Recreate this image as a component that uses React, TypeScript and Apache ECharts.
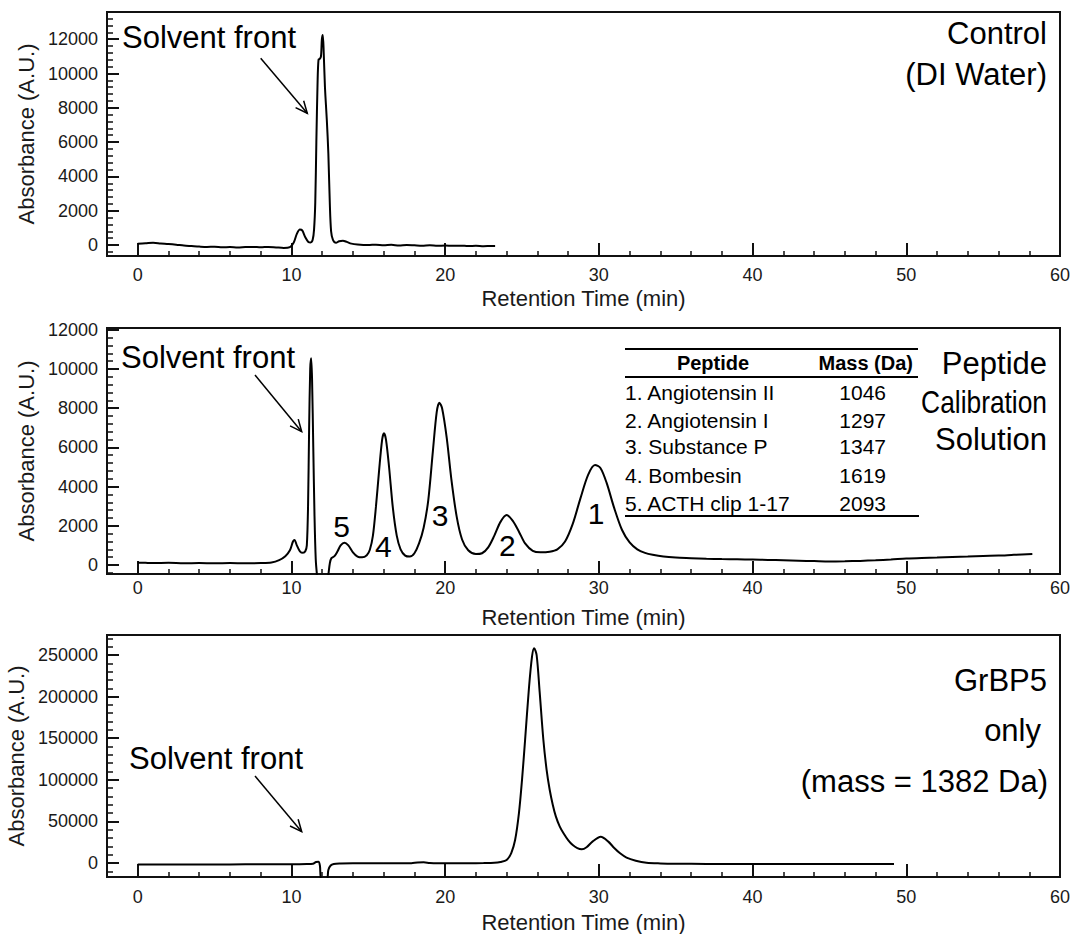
import React, { useEffect, useRef } from "react";
import * as echarts from "echarts";

// ---------- data (retention time [min], absorbance [A.U.]) ----------
const controlTrace: [number, number][] = [
  [0, 80], [0.5, 100], [1, 130], [1.5, 90], [2, 60], [2.5, 20], [3, -30], [3.5, -60], [4, -90],
  [4.5, -110], [5, -100], [5.5, -130], [6, -120], [6.5, -140], [7, -120], [7.5, -110], [8, -130],
  [8.5, -110], [9, -140], [9.5, -170], [9.9, -120], [10.15, 150], [10.35, 650], [10.55, 900],
  [10.7, 850], [10.9, 450], [11.1, 180], [11.25, 150], [11.38, 300], [11.47, 900], [11.55, 2500],
  [11.62, 6000], [11.7, 9500], [11.76, 10800], [11.84, 10850], [11.92, 11000], [11.98, 12000],
  [12.04, 12250], [12.1, 11200], [12.18, 9200], [12.3, 7300], [12.4, 5350], [12.5, 2300],
  [12.58, 800], [12.7, 300], [12.9, 130], [13.1, 220], [13.35, 250], [13.6, 180], [13.9, 80],
  [14.3, 30], [15, 0], [15.5, 20], [16, -20], [16.5, 10], [17, -30], [17.5, 0], [18, -20],
  [18.5, -40], [19, -20], [19.5, -50], [20, -30], [20.5, -50], [21, -40], [21.5, -60], [22, -50],
  [22.5, -70], [23, -60], [23.25, -60],
];

const calibrationTrace: [number, number][] = [
  [0, 120], [0.5, 110], [1, 100], [2, 110], [3, 90], [4, 100], [5, 90], [6, 100], [7, 90], [8, 100],
  [8.7, 130], [9.2, 250], [9.6, 450], [9.9, 750], [10.1, 1200], [10.2, 1280], [10.35, 1000],
  [10.55, 700], [10.75, 620], [10.9, 700], [11.0, 1000], [11.08, 3000], [11.15, 7000],
  [11.22, 10000], [11.28, 10550], [11.34, 9500], [11.42, 6000], [11.5, 2500], [11.58, 300],
  [11.66, -500], [11.8, -1500], [12.2, -1500], [12.4, -500], [12.5, 100], [12.6, 350], [12.8, 450],
  [13.0, 700], [13.2, 1000], [13.45, 1140], [13.7, 1000], [14.0, 650], [14.3, 430], [14.6, 390],
  [14.9, 500], [15.1, 780], [15.3, 1500], [15.5, 3000], [15.7, 4800], [15.9, 6400], [16.02, 6720],
  [16.15, 6400], [16.35, 5000], [16.6, 2900], [16.85, 1500], [17.1, 800], [17.4, 480], [17.7, 430],
  [18.0, 600], [18.3, 1100], [18.6, 1900], [18.9, 3300], [19.2, 5800], [19.45, 7800], [19.62, 8280],
  [19.8, 8000], [20.1, 6500], [20.4, 4400], [20.75, 2465], [21.1, 1300], [21.5, 750], [22.0, 560],
  [22.4, 600], [22.8, 900], [23.2, 1500], [23.6, 2200], [24.0, 2550], [24.4, 2250], [24.8, 1700],
  [25.2, 1100], [25.7, 720], [26.2, 650], [26.8, 680], [27.3, 800], [27.8, 1200], [28.3, 2100],
  [28.8, 3400], [29.3, 4600], [29.75, 5100], [30.1, 4950], [30.5, 4200], [31.0, 2900], [31.5, 1800],
  [32.0, 1150], [32.5, 800], [33.0, 620], [33.5, 520], [34.2, 430], [35, 380], [36, 350], [37, 320],
  [38, 300], [39, 290], [40, 280], [41, 260], [42, 240], [43, 220], [44, 200], [45, 180], [46, 190],
  [47, 210], [48, 240], [49, 280], [50, 330], [51, 360], [52, 380], [53, 410], [54, 430], [55, 460],
  [56, 480], [57, 520], [58.2, 560],
];

const grbp5Trace: [number, number][] = [
  [0, -1800], [2, -1700], [4, -1800], [6, -1700], [8, -1600], [10, -1500], [11.0, -1200],
  [11.4, -800], [11.6, 1200], [11.75, 1400], [11.85, -3000], [11.95, -20000], [12.3, -20000],
  [12.4, -8400], [12.55, -3000], [12.75, -1200], [13.2, -600], [14, -300], [15, -300], [16, -400],
  [17, -400], [17.8, -300], [18.2, 600], [18.6, 800], [19.0, 0], [19.5, -300], [20.5, -300],
  [21.5, -200], [22.5, -100], [23.2, 200], [23.6, 1200], [24.0, 3600], [24.3, 12000],
  [24.55, 27600], [24.8, 60000], [25.0, 100000], [25.2, 147800], [25.45, 210000], [25.65, 248000],
  [25.79, 258000], [25.95, 250000], [26.15, 205000], [26.39, 147800], [26.6, 112000],
  [26.8, 88000], [27.0, 70000], [27.2, 56000], [27.45, 44000], [27.7, 35700], [28.0, 27500],
  [28.3, 21500], [28.6, 17800], [28.89, 16500], [29.2, 19000], [29.6, 26000], [30.12, 31600],
  [30.6, 26000], [31.0, 18000], [31.38, 11650], [31.8, 6500], [32.4, 2800], [33.1, 360], [34, -500],
  [35, -900], [37, -1100], [40, -1200], [43, -1300], [46, -1300], [49.2, -1300],
];

const peptideNames = ["1. Angiotensin II", "2. Angiotensin I", "3. Substance P", "4. Bombesin", "5. ACTH clip 1-17"];
const peptideMasses = ["1046", "1297", "1347", "1619", "2093"];
const peakNumbers = ["5", "4", "3", "2", "1"];

// tick values
const xMajor = [0, 10, 20, 30, 40, 50, 60];
const xMinor: number[] = [];
for (let t = 2; t < 60; t += 2) if (t % 10 !== 0) xMinor.push(t);
const yMajorSmall = [0, 2000, 4000, 6000, 8000, 10000, 12000];
const yMinorSmall: number[] = [];
for (let v = -400; v <= 13600; v += 400) if (v % 2000 !== 0) yMinorSmall.push(v);
const yMajorBig = [0, 50000, 100000, 150000, 200000, 250000];
const yMinorBig: number[] = [];
for (let v = -10000; v <= 270000; v += 10000) if (v % 50000 !== 0) yMinorBig.push(v);

const FONT = '"Liberation Sans", Arial, Helvetica, sans-serif';
const INK = "#111";

function xAxes(g: number, labelMargin: number, nameGap: number) {
  return [
    {
      type: "value", gridIndex: g, min: -2, max: 60, position: "bottom",
      axisLine: { show: true, onZero: false, lineStyle: { color: INK, width: 2 } },
      axisTick: { show: true, inside: true, length: 13, customValues: xMajor, lineStyle: { color: INK, width: 2 } },
      axisLabel: { customValues: xMajor, margin: labelMargin, fontSize: 18, color: "#1a1a1a", fontFamily: FONT, formatter: (v: number) => String(v) },
      splitLine: { show: false },
      name: "Retention Time (min)", nameLocation: "middle", nameGap,
      nameTextStyle: { fontSize: 22, color: "#1a1a1a", fontFamily: FONT },
    },
    {
      type: "value", gridIndex: g, min: -2, max: 60, position: "bottom",
      axisLine: { show: false, onZero: false },
      axisTick: { show: true, inside: true, length: 5, customValues: xMinor, lineStyle: { color: INK, width: 1.5 } },
      axisLabel: { show: false }, splitLine: { show: false },
    },
  ];
}

function yAxes(g: number, min: number, max: number, major: number[], minor: number[], nameGap: number) {
  return [
    {
      type: "value", gridIndex: g, min, max, position: "left",
      axisLine: { show: true, onZero: false, lineStyle: { color: INK, width: 2 } },
      axisTick: { show: true, inside: true, length: 12, customValues: major, lineStyle: { color: INK, width: 2 } },
      axisLabel: { customValues: major, margin: 9, fontSize: 18, color: "#1a1a1a", fontFamily: FONT, formatter: (v: number) => String(v) },
      splitLine: { show: false },
      name: "Absorbance (A.U.)", nameLocation: "middle", nameRotate: 90, nameGap,
      nameTextStyle: { fontSize: 22, color: "#1a1a1a", fontFamily: FONT },
    },
    {
      type: "value", gridIndex: g, min, max, position: "left",
      axisLine: { show: false, onZero: false },
      axisTick: { show: true, inside: true, length: 6, customValues: minor, lineStyle: { color: INK, width: 1.5 } },
      axisLabel: { show: false }, splitLine: { show: false },
    },
  ];
}

function txt(text: string, x: number, y: number, size: number, align = "left", extra: any = {}, weight = "normal") {
  return {
    type: "text", x, y, z: 100, silent: true, ...extra,
    style: { text, fill: "#000", fontSize: size, fontFamily: FONT, fontWeight: weight, align, verticalAlign: "middle" },
  };
}

function arrow(x1: number, y1: number, x2: number, y2: number) {
  const ang = Math.atan2(y2 - y1, x2 - x1);
  const L = 13, a = 0.42;
  const p1 = [x2 - L * Math.cos(ang - a), y2 - L * Math.sin(ang - a)];
  const p2 = [x2 - L * Math.cos(ang + a), y2 - L * Math.sin(ang + a)];
  return [
    { type: "line", z: 100, silent: true, shape: { x1, y1, x2, y2 }, style: { stroke: "#000", lineWidth: 1.5 } },
    { type: "polyline", z: 100, silent: true, shape: { points: [p1, [x2, y2], p2] }, style: { stroke: "#000", lineWidth: 1.5, fill: null } },
  ];
}

function hline(x1: number, x2: number, y: number) {
  return { type: "line", z: 100, silent: true, shape: { x1, y1: y, x2, y2: y }, style: { stroke: "#000", lineWidth: 2 } };
}

export default function App() {
  const ref = useRef<HTMLDivElement>(null);
  useEffect(() => {
    if (!ref.current) return;
    const chart = echarts.init(ref.current, undefined, { renderer: "svg" });
    const gridBase = {
      left: 107, right: 13, show: true, borderColor: INK, borderWidth: 2,
      containLabel: false, outerBoundsMode: "none",
    };
    const lineSeries = (g: number, data: [number, number][]) => ({
      type: "line", xAxisIndex: 2 * g, yAxisIndex: 2 * g, data, showSymbol: false, symbol: "none",
      smooth: 0.3, clip: true, lineStyle: { color: "#000", width: 2 }, silent: true,
    });

    const rowY = [392.7, 420, 446.7, 475, 503.3];
    const peakPos = [[341.7, 526.7], [383.3, 546.7], [440, 515], [507.3, 545], [596, 513.3]];

    const graphic: any[] = [
      // panel 1
      txt("Solvent front", 122, 37, 31),
      ...arrow(260.7, 58.3, 307.3, 113.3),
      txt("Control", 1047, 33, 31, "right"),
      txt("(DI Water)", 1047, 74, 31, "right"),
      // panel 2
      txt("Solvent front", 121, 357, 31),
      ...arrow(255, 375, 301.7, 431.7),
      txt("Peptide", 1047, 363, 31, "right"),
      txt("Calibration", 1047, 402, 31, "right", { scaleX: 0.85 }),
      txt("Solution", 1047, 439, 31, "right"),
      hline(625, 918, 349),
      hline(625, 918, 377),
      hline(625, 919, 516),
      txt("Peptide", 713, 363, 20, "center", {}, "bold"),
      txt("Mass (Da)", 913, 363, 20, "right", {}, "bold"),
      ...peptideNames.map((n, i) => txt(n, 625, rowY[i], 21)),
      ...peptideMasses.map((m, i) => txt(m, 886, rowY[i], 21, "right")),
      ...peakNumbers.map((n, i) => txt(n, peakPos[i][0], peakPos[i][1], 30, "center")),
      // panel 3
      txt("Solvent front", 129, 758, 31),
      ...arrow(255, 776, 301.7, 831.7),
      txt("GrBP5", 1047, 680, 31, "right"),
      txt("only", 1041, 730, 31, "right"),
      txt("(mass = 1382 Da)", 1048, 781, 31, "right"),
    ];

    chart.setOption({
      animation: false,
      backgroundColor: "#fff",
      grid: [
        { ...gridBase, top: 12, height: 244 },
        { ...gridBase, top: 328, height: 246 },
        { ...gridBase, top: 635, height: 242 },
      ],
      xAxis: [...xAxes(0, 10, 31), ...xAxes(1, 5, 32), ...xAxes(2, 11, 34)],
      yAxis: [
        ...yAxes(0, -641, 13586, yMajorSmall, yMinorSmall, 65),
        ...yAxes(1, -459, 12092, yMajorSmall, yMinorSmall, 65),
        ...yAxes(2, -16827, 274038, yMajorBig, yMinorBig, 73),
      ],
      series: [lineSeries(0, controlTrace), lineSeries(1, calibrationTrace), lineSeries(2, grbp5Trace)],
      graphic,
    });
    return () => chart.dispose();
  }, []);
  return <div ref={ref} style={{ position: "absolute", left: 0, top: 0, width: 1073, height: 934, background: "#fff" }} />;
}
